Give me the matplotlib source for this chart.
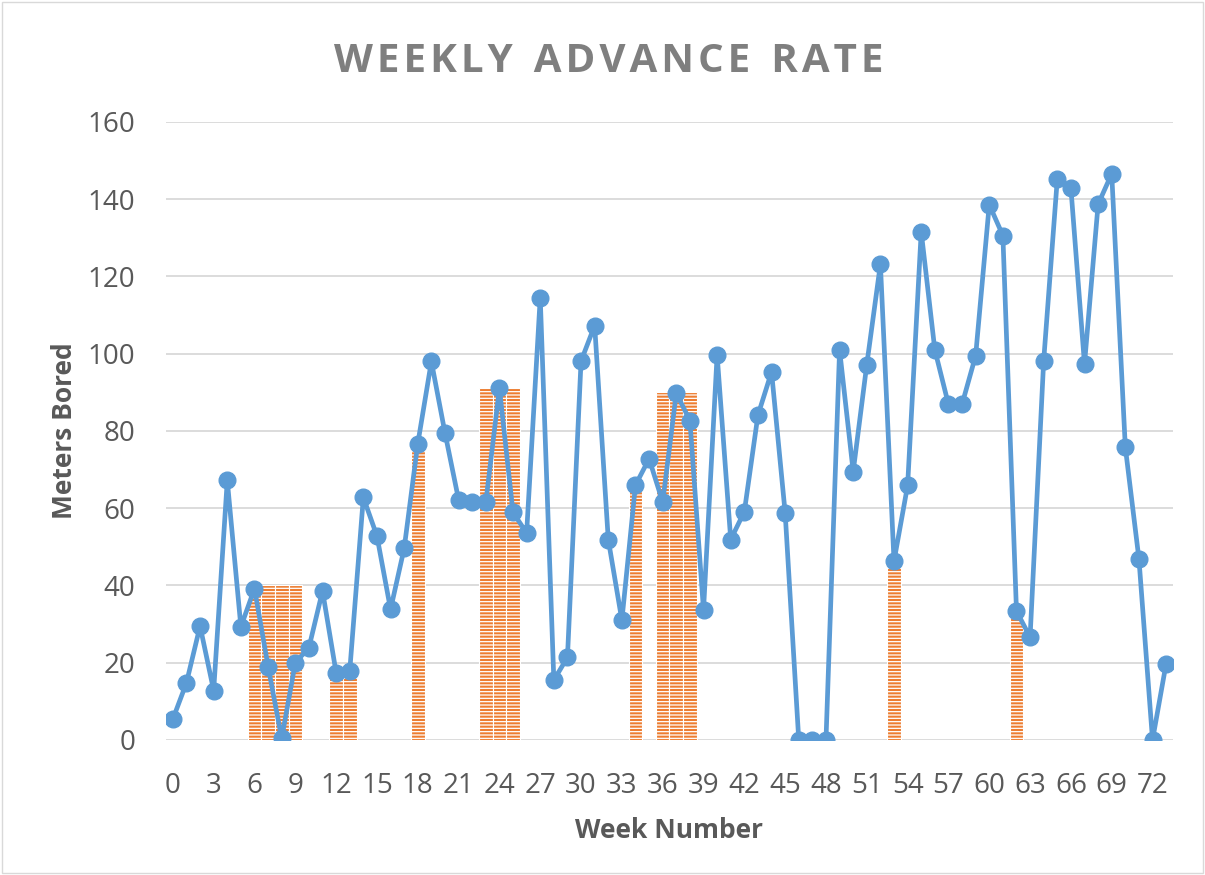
import matplotlib
matplotlib.use("Agg")
import matplotlib.pyplot as plt
from matplotlib.patches import Rectangle

plt.rcParams['font.family'] = ['Open Sans', 'DejaVu Sans']
plt.rcParams['hatch.linewidth'] = 0.9

# weekly meters bored (blue line)
weeks = list(range(74))
meters = [5.4, 14.8, 29.5, 12.8, 67.2, 29.3, 39.2, 19, 0.4, 20,
          23.9, 38.6, 17.4, 17.9, 62.8, 52.8, 33.8, 49.6, 76.7, 98,
          79.5, 62.2, 61.5, 61.5, 91.1, 58.9, 53.6, 114.5, 15.5, 21.4,
          98.1, 107.3, 51.9, 31, 66, 72.8, 61.6, 89.8, 82.7, 33.6,
          99.7, 51.9, 59.1, 84.1, 95.3, 58.8, 0, 0, 0, 101,
          69.5, 97.2, 123.2, 46.3, 65.9, 131.6, 101, 86.9, 86.9, 99.5,
          138.6, 130.6, 33.4, 26.6, 98.2, 145.2, 142.9, 97.3, 138.7, 146.6,
          75.8, 46.9, 0, 19.8]

# orange hatched bars
bar_weeks = [6, 7, 8, 9, 12, 13, 18, 23, 24, 25, 34, 36, 37, 38, 53, 62]
bar_vals = [40, 40, 40, 40, 17.5, 17.5, 76.7, 91, 91, 91, 66, 90, 90, 90, 46.3, 33.4]

xticks = list(range(0, 73, 3))
yticks = list(range(0, 161, 20))

fig = plt.figure(figsize=(12.05, 8.75), dpi=100)
ax = fig.add_axes([0.1378, 0.1543, 0.9734 - 0.1378, 0.8606 - 0.1543])

ax.bar(bar_weeks, bar_vals, width=1.0, color='#ED7D31', edgecolor='white',
       hatch='-----', linewidth=0.8, zorder=2)
ax.plot(weeks, meters, color='#5B9BD5', lw=3.4, marker='o', ms=12, zorder=3)

ax.set_xlim(-0.5, 73.5)
ax.set_ylim(0, 160)
ax.set_xticks(xticks)
ax.set_yticks(yticks)
ax.grid(axis='y', color='#D9D9D9', lw=1.3, zorder=0)
ax.set_axisbelow(True)
for s in ax.spines.values():
    s.set_visible(False)
ax.tick_params(length=0, labelsize=20, colors='#595959')
ax.tick_params(axis='x', pad=23)
ax.tick_params(axis='y', pad=22)

ax.set_xlabel('Week Number', fontsize=19, fontweight='bold', color='#595959', labelpad=12)
ax.set_ylabel('Meters Bored', fontsize=19, fontweight='bold', color='#595959', labelpad=7)

title = '\u200a'.join('WEEKLY ADVANCE RATE').replace('\u200a \u200a', '  ')
fig.text(0.505, 0.93, title, ha='center', va='center', fontsize=29,
         fontweight='bold', color='#7F7F7F')

fig.patches.append(Rectangle((0.002, 0.002), 0.996, 0.996, transform=fig.transFigure,
                             fill=False, edgecolor='#D9D9D9', lw=1))

fig.savefig('out.png', dpi=100)
